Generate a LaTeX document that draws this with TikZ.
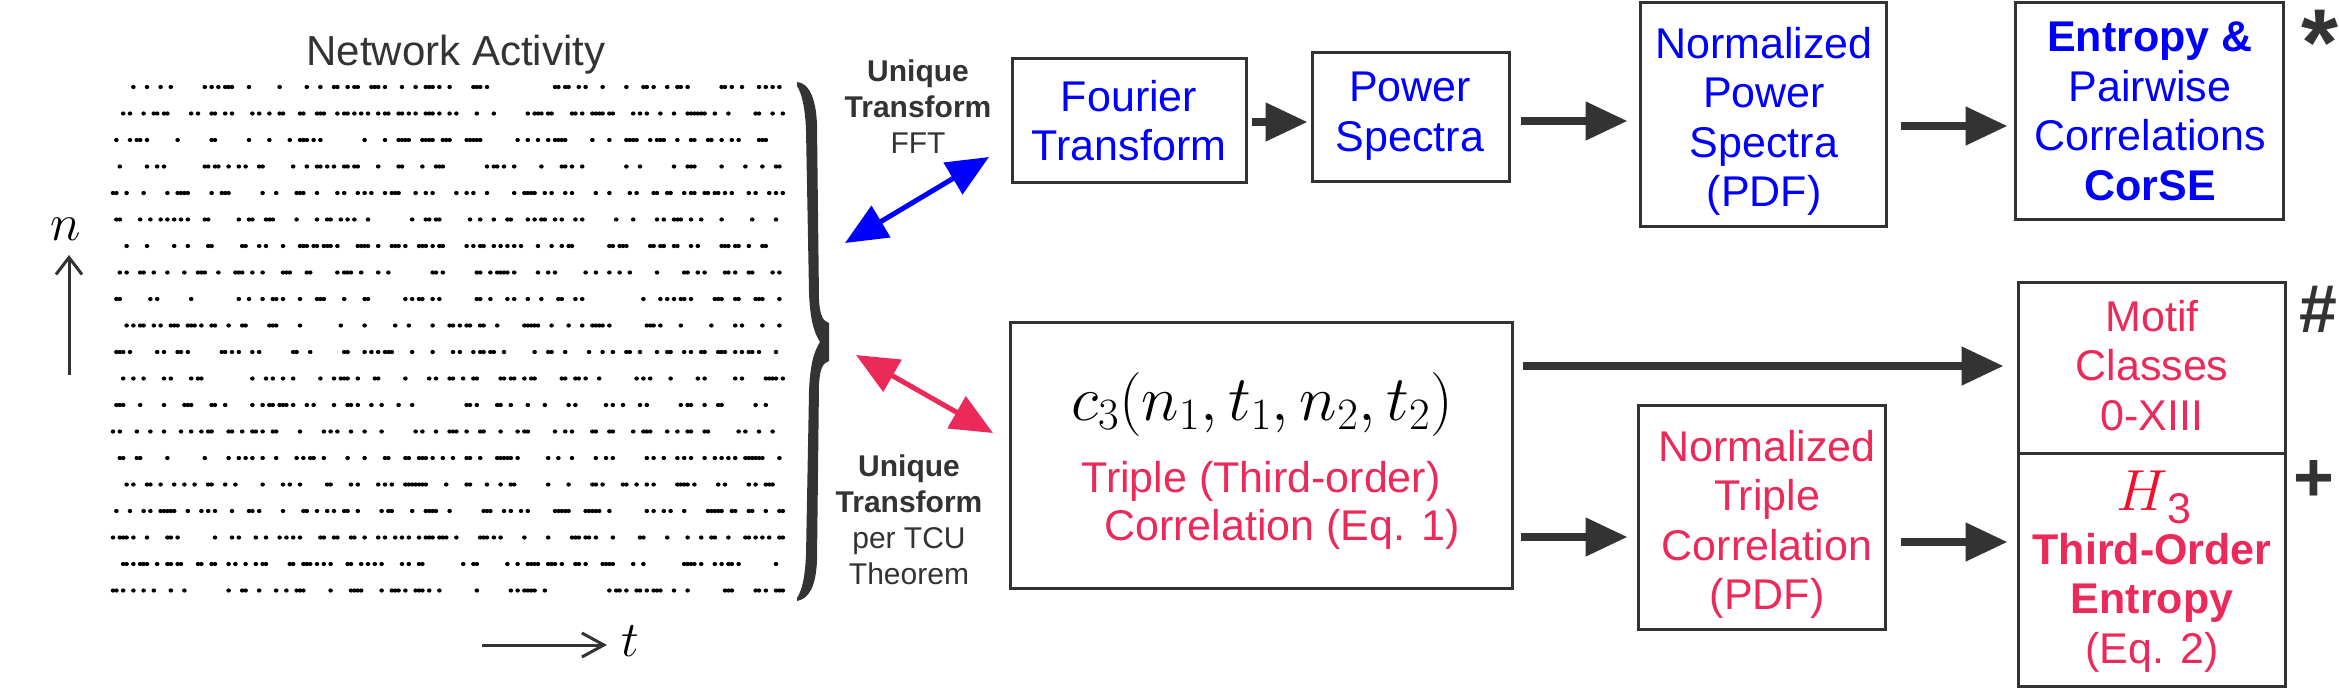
\RequirePackage{fix-cm}
\documentclass[tikz,border=0pt]{standalone}
\usepackage[no-math]{fontspec}
\setmainfont{Liberation Sans}
\usetikzlibrary{arrows.meta,calc}
\definecolor{dg}{HTML}{333333}
\definecolor{myblue}{HTML}{0000FF}
\definecolor{crim}{HTML}{EC2A5A}
\definecolor{hred}{HTML}{F0102E}
\begin{document}
\begin{tikzpicture}[x=1pt,y=-1pt,
  box/.style={draw=dg,line width=3pt,inner sep=0pt},
  txt/.style={inner sep=0pt,align=center,font=\fontsize{43}{49.5}\selectfont},
  lab/.style={inner sep=0pt,align=center,text=dg,font=\fontsize{30}{36}\selectfont},
  arr/.style={draw=dg,line width=8pt,-{Triangle[length=42pt,width=37pt]}},
  dbl/.style={line width=5pt,{Triangle[length=42pt,width=36pt]}-{Triangle[length=42pt,width=36pt]}},
  sym/.style={inner sep=0pt,text=dg,anchor=base}]
\useasboundingbox (0,0) rectangle (2339,689);
\fill[white] (0,0) rectangle (2339,689);

% ---- raster of network activity
\pgfmathsetseed{12345}
\foreach \r in {0,...,19}{
  \pgfmathsetmacro{\yy}{87+26.5*\r}
  \foreach \k in {0,...,197}{
    \pgfmathrandominteger{\q}{0}{99}
    \ifnum\q<31 \fill[black] ({113+3.4*\k},\yy) ellipse (2.3pt and 2.1pt);\fi
  }
}
\node[inner sep=0pt,anchor=base,text=dg,font=\fontsize{42}{50}\selectfont] (title) at (456,65) {Network Activity};

% ---- axes
\coordinate (nA) at (69,375); \coordinate (nB) at (69,255);
\draw[dg,line width=3pt,-{Straight Barb[length=17pt,width=26pt,line width=3pt]}] (nA) -- (nB);
\node[inner sep=0pt,anchor=base,font=\fontsize{52}{60}\selectfont] (nl) at (66,240) {$n$};
\coordinate (tA) at (482,645); \coordinate (tB) at (607,645);
\draw[dg,line width=3pt,-{Straight Barb[length=22pt,width=24pt,line width=3pt]}] (tA) -- (tB);
\node[inner sep=0pt,anchor=base,font=\fontsize{50}{58}\selectfont] (tl) at (630,656) {$t$};

% ---- brace
\fill[dg] (797,82) .. controls (808,83) and (816,96) .. (817,125)
  -- (819,300) .. controls (820,316) and (823,321) .. (829,323)
  -- (829,361) .. controls (823,363) and (820,368) .. (819,384)
  -- (817,560) .. controls (816,588) and (808,599) .. (797,601)
  -- (797,598) .. controls (802,590) and (805,578) .. (806,555)
  -- (809,392) .. controls (810,362) and (815,350) .. (820,342)
  .. controls (815,334) and (810,322) .. (809,292)
  -- (806,130) .. controls (805,105) and (801,92) .. (797,86) -- cycle;

% ---- transform labels
\node[lab,anchor=north] (u1) at (918,60) {{\bfseries Unique}\\{\bfseries Transform}\\FFT};
\node[lab,anchor=north] (u2) at (909,455) {{\bfseries Unique}\\{\bfseries Transform}\\per TCU\\Theorem};

% ---- boxes
\node[box,minimum width=234pt,minimum height=124pt] (FT) at (1129,120) {};
\node[box,minimum width=197pt,minimum height=129pt] (PS) at (1410.5,116.5) {};
\node[box,minimum width=246pt,minimum height=224pt] (NPS) at (1763,114) {};
\node[box,minimum width=268pt,minimum height=217pt] (ENT) at (2149,110.5) {};
\node[box,minimum width=502pt,minimum height=266pt] (C3) at (1261,455) {};
\node[box,minimum width=247pt,minimum height=224pt] (NTC) at (1761.5,517) {};
\node[box,minimum width=267pt,minimum height=171pt] (MOT) at (2151.5,367.5) {};
\node[box,minimum width=267pt,minimum height=233pt] (H3) at (2151.5,569.5) {};

% ---- box texts
\node[txt,text=myblue,anchor=north] (FTt) at (1129,80) {Fourier\\Transform};
\node[txt,text=myblue,anchor=north] (PSt) at (1410,72) {Power\\Spectra};
\node[txt,text=myblue,anchor=north] (NPSt) at (1764,27) {Normalized\\Power\\Spectra\\(PDF)};
\node[txt,text=myblue,anchor=north] (ENTt) at (2150,22) {{\bfseries Entropy \&}\\Pairwise\\Correlations\\{\bfseries CorSE}};
\node[inner sep=0pt,anchor=base,font=\fontsize{64}{72}\selectfont] (c3m) at (1262,420) {$c_3(n_1,t_1,n_2,t_2)$};
\node[txt,text=crim,anchor=base] (c3a) at (1261,492) {Triple (Third-order)};
\node[txt,text=crim,anchor=base] (c3b) at (1282,540) {Correlation (Eq. 1)};
\node[txt,text=crim,anchor=north] (NTCt) at (1767,430) {Normalized\\Triple\\Correlation\\(PDF)};
\node[txt,text=crim,anchor=north] (MOTt) at (2152,300) {Motif\\Classes\\0-XIII};
\node[inner sep=0pt,anchor=base] (h3m) at (2154,510) {\fontsize{58}{64}\selectfont\textcolor{hred}{$H$}\raisebox{-13pt}{\fontsize{43}{50}\selectfont\textcolor{crim}{3}}};
\node[txt,text=crim,anchor=north] (H3t) at (2152,533) {{\bfseries Third-Order}\\{\bfseries Entropy}\\(Eq. 2)};

% ---- symbols
\node[sym,font=\fontsize{95}{100}\selectfont\bfseries] (star) at (2320,75) {*};
\node[sym,font=\fontsize{68}{72}\selectfont\bfseries] (hash) at (2318,332) {\#};
\node[sym,font=\fontsize{70}{74}\selectfont\bfseries] (plus) at (2314,501) {+};

% ---- connectors
\draw[arr,shorten <=4pt,shorten >=3pt] ($(FT.east)+(0,2)$) -- ($(FT.east -| PS.west)+(0,2)$);
\draw[arr,shorten <=10pt,shorten >=11pt] ($(PS.east)+(0,4.5)$) -- ($(PS.east -| NPS.west)+(0,4.5)$);
\draw[arr,shorten <=13pt,shorten >=6pt] ($(NPS.east)+(0,12)$) -- ($(NPS.east -| ENT.west)+(0,12)$);
\draw[arr,shorten <=9pt,shorten >=13pt] ($(C3.east |- MOT.west)+(0,-1.5)$) -- ($(MOT.west)+(0,-1.5)$);
\draw[arr,shorten <=7pt,shorten >=9pt] ($(C3.east |- NTC.west)+(0,20)$) -- ($(NTC.west)+(0,20)$);
\draw[arr,shorten <=14pt,shorten >=9pt] ($(NTC.east)+(0,25)$) -- ($(NTC.east -| H3.west)+(0,25)$);

\coordinate (bL) at (845,243); \coordinate (bR) at (989,157);
\draw[dbl,myblue] (bL) -- (bR);
\coordinate (rL) at (856,355); \coordinate (rR) at (993,433);
\draw[dbl,crim] (rL) -- (rR);
\end{tikzpicture}
\end{document}
